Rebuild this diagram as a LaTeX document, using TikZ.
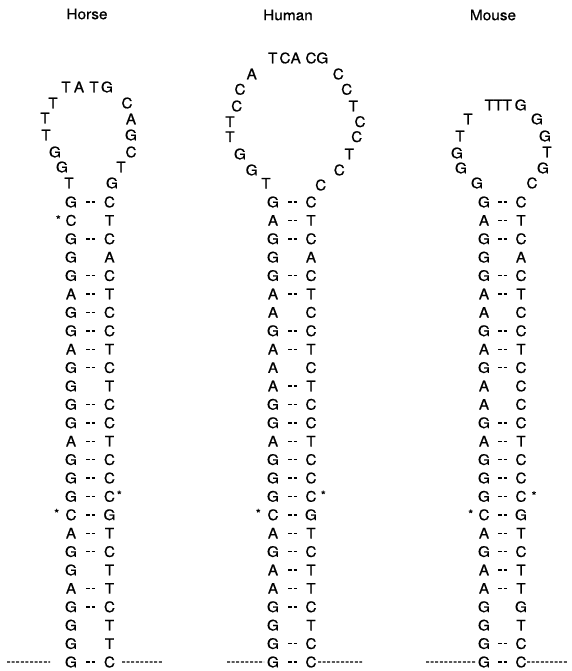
\documentclass[tikz,border=0pt]{standalone}
\usepackage{fontspec}
\setmainfont{TeX Gyre Heros}[FakeStretch=1.06,FakeBold=0.6]
\begin{document}
\begin{tikzpicture}[x=1pt,y=-1pt,
  base/.style={inner sep=0pt, font=\fontsize{14.5}{14.5}\selectfont},
  ttl/.style={inner sep=0pt, font=\fontsize{14.5}{14.5}\selectfont},
  star/.style={inner sep=0pt, anchor=base, font=\fontsize{12}{12}\selectfont},
  bp/.style={line width=1.4pt, dash pattern=on 3.5pt off 2pt},
  tail/.style={line width=1.1pt, dash pattern=on 3pt off 1.6pt}]
\useasboundingbox (0,0) rectangle (572,671);
% titles
\node[ttl] (tHorse) at (87,14) {Horse};
\node[ttl] (tHuman) at (288,15) {Human};
\node[ttl] (tMouse) at (493,15) {Mouse};
% ---------------- Horse ----------------
\foreach \k/\x/\y/\c in {1/66/87/T,2/79/87/A,3/94/87/T,4/107/87/G,
  5/53/103/T,6/45/118/T,7/46/135/T,8/55/152/G,9/62/167/G,10/69/183/T,
  11/127/103/C,12/131/119/A,13/131/135/G,14/131/152/C,15/121/167/T,16/112/183/G}
  {\node[base] (hP\k) at (\x,\y) {\c};}
\foreach \i/\l/\r/\p in {1/G/C/1,2/C/T/0,3/G/C/1,4/G/A/0,5/G/C/1,6/A/T/1,7/G/C/1,
  8/G/C/1,9/A/T/1,10/G/C/1,11/G/T/0,12/G/C/1,13/G/C/1,14/A/T/1,15/G/C/1,16/G/C/1,
  17/G/C/1,18/C/G/1,19/A/T/1,20/G/C/1,21/G/T/0,22/A/T/1,23/G/C/1,24/G/T/0,25/G/T/0,26/G/C/1}
  {\pgfmathsetmacro\yy{202+(\i-1)*18.4}
   \node[base] (hL\i) at (71,\yy) {\l};
   \node[base] (hR\i) at (109.5,\yy) {\r};
   \ifnum\p=1 \draw[bp,shorten <=15pt,shorten >=14pt] (hL\i.center) -- (hR\i.center);\fi}
\node[star] (hS1) at (58.3,224) {*};
\node[star] (hS2) at (119.3,499.4) {*};
\node[star] (hS3) at (56.7,517.7) {*};
\coordinate (hTa) at (7,662);
\coordinate (hTb) at (162,662);
\draw[tail,shorten >=21pt] (hTa) -- (hL26.center);
\draw[tail,shorten <=12.5pt] (hR26.center) -- (hTb);
% ---------------- Human ----------------
\foreach \k/\x/\y/\c in {1/272.7/58/T,2/285/58/C,3/295.7/58/A,4/311/58/C,5/322.3/58/G,
  6/251.7/74/A,7/240/89.3/C,8/236.7/106/C,9/230/121.7/T,10/230/136.7/T,11/240/154/G,12/251.7/170/G,13/266/183.3/T,
  14/338.3/74/C,15/346.7/89.3/C,16/353.3/106/T,17/360/121.7/C,18/356.7/136.7/C,19/349.3/154/T,20/339.3/170/C,21/320.7/185/C}
  {\node[base] (uP\k) at (\x,\y) {\c};}
\foreach \i/\l/\r/\p in {1/G/C/1,2/A/T/1,3/G/C/1,4/G/A/0,5/G/C/1,6/A/T/1,7/A/C/0,
  8/G/C/1,9/A/T/1,10/A/C/0,11/A/T/1,12/G/C/1,13/G/C/1,14/A/T/1,15/G/C/1,16/G/C/1,
  17/G/C/1,18/C/G/1,19/A/T/1,20/G/C/1,21/A/T/1,22/A/T/1,23/G/C/1,24/G/T/0,25/G/C/1,26/G/C/1}
  {\pgfmathsetmacro\yy{202+(\i-1)*18.4}
   \node[base] (uL\i) at (273,\yy) {\l};
   \node[base] (uR\i) at (311,\yy) {\r};
   \ifnum\p=1 \draw[bp,shorten <=15pt,shorten >=14pt] (uL\i.center) -- (uR\i.center);\fi}
\node[star] (uS2) at (323.3,499.4) {*};
\node[star] (uS3) at (258.3,517.7) {*};
\coordinate (uTa) at (227,662);
\coordinate (uTb) at (362,662);
\draw[tail,shorten >=9pt] (uTa) -- (uL26.center);
\draw[tail,shorten <=7pt] (uR26.center) -- (uTb);
% ---------------- Mouse ----------------
\foreach \k/\x/\y/\c in {1/489.3/105/T,2/498.3/105/T,3/507.3/105/T,4/520.7/105/G,
  5/468/119/T,6/460/136/T,7/457/153/G,8/461/168/G,9/477/183/G,
  10/537/119/G,11/545/136/G,12/547/152/T,13/543/168/G,14/532/183/C}
  {\node[base] (mP\k) at (\x,\y) {\c};}
\foreach \i/\l/\r/\p in {1/G/C/1,2/A/T/1,3/G/C/1,4/G/A/0,5/G/C/1,6/A/T/1,7/A/C/0,
  8/G/C/1,9/A/T/1,10/G/C/1,11/A/C/0,12/A/C/0,13/G/C/1,14/A/T/1,15/G/C/1,16/G/C/1,
  17/G/C/1,18/C/G/1,19/A/T/1,20/G/C/1,21/A/T/1,22/A/T/1,23/G/G/0,24/G/T/0,25/G/C/1,26/G/C/1}
  {\pgfmathsetmacro\yy{202+(\i-1)*18.4}
   \node[base] (mL\i) at (484,\yy) {\l};
   \node[base] (mR\i) at (521,\yy) {\r};
   \ifnum\p=1 \draw[bp,shorten <=14pt,shorten >=14pt] (mL\i.center) -- (mR\i.center);\fi}
\node[star] (mS2) at (534,500) {*};
\node[star] (mS3) at (470.7,518.4) {*};
\coordinate (mTa) at (426,662);
\coordinate (mTb) at (567,662);
\draw[tail,shorten >=9pt] (mTa) -- (mL26.center);
\draw[tail,shorten <=6pt] (mR26.center) -- (mTb);
\end{tikzpicture}
\end{document}
